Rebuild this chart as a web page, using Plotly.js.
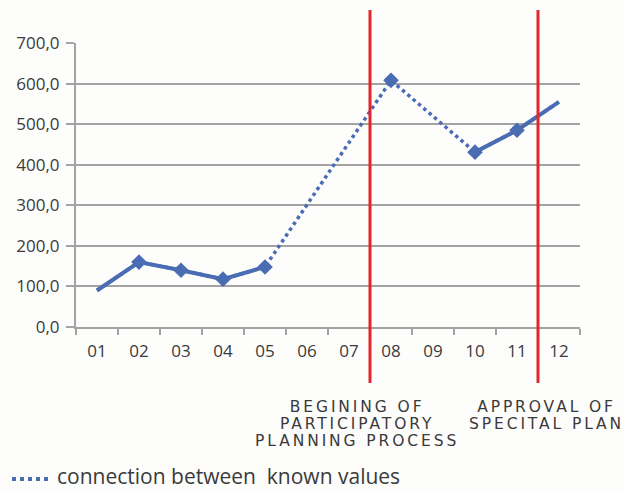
<!DOCTYPE html>
<html>
<head>
<meta charset="utf-8">
<script src="https://cdn.plot.ly/plotly-3.0.1.min.js"></script>
<style>
  html, body { margin: 0; padding: 0; background: #fdfdfb; }
  #chart { width: 624px; height: 491px; }
</style>
</head>
<body>
<div id="chart"></div>
<script>
// Month codes along the x axis
const months = ['01', '02', '03', '04', '05', '06', '07', '08', '09', '10', '11', '12'];
// Known values; null where no value is known
const values = [90, 160, 140, 118, 148, null, null, 608, null, 431, 485, 555];
// Points shown with a diamond marker
const marked = [false, true, true, true, true, false, false, true, false, true, true, false];
// Event markers: position between categories and label lines
const eventPositions = [6.5, 10.5];
const eventLabels = [
  ['BEGINING OF', 'PARTICIPATORY', 'PLANNING PROCESS'],
  ['APPROVAL OF', 'SPECITAL PLAN']
];
const legendLabel = 'connection between  known values';

const blue = '#4a6cb3';
const red = '#e2262b';
const grey = '#a3a3a3';
const textColor = '#3a3a3a';

// Plot area in pixels, used to place paper-referenced items
const plotL = 76, plotR = 580, plotT = 43, plotB = 327;
const px = x => (x - plotL) / (plotR - plotL);
const py = y => (plotB - y) / (plotB - plotT);

// Dotted line bridging the gaps between known values
const bridge = {
  x: months, y: values, type: 'scatter', mode: 'lines',
  connectgaps: true, hoverinfo: 'skip', showlegend: false,
  line: { color: blue, width: 3.5, dash: 'dot' }
};

// Solid line through consecutive known values
const known = {
  x: months, y: values, type: 'scatter', mode: 'lines',
  connectgaps: false, showlegend: false,
  line: { color: blue, width: 4 }
};

// Diamond markers on the measured points
const markerPts = {
  x: months.filter((m, i) => marked[i]),
  y: values.filter((v, i) => marked[i]),
  type: 'scatter', mode: 'markers', showlegend: false,
  marker: { symbol: 'diamond', size: 12, color: blue }
};

const shapes = eventPositions.map(p => ({
  type: 'line', xref: 'x', yref: 'paper',
  x0: p, x1: p, y0: py(383), y1: py(10),
  line: { color: red, width: 3 }
}));
// Legend sample: dotted line
shapes.push({
  type: 'line', xref: 'paper', yref: 'paper',
  x0: px(12), x1: px(50), y0: py(479), y1: py(479),
  line: { color: blue, width: 4, dash: 'dot' }
});

// Event captions: a small base size keeps the line pitch tight,
// while the spans carry the visible letter size and spacing
const eventCenters = [357, 546];
const captionSpan = s => '<span style="font-size:15.5px;letter-spacing:2.9px">' + s + '</span>';
const annotations = eventLabels.map((lines, k) => ({
  xref: 'paper', yref: 'paper', x: px(eventCenters[k]), y: py(397),
  xanchor: 'center', yanchor: 'top', align: 'center', showarrow: false,
  borderpad: 0,
  text: lines.map(captionSpan).join('<br>'),
  font: { family: 'DejaVu Sans', size: 13, color: textColor }
}));
annotations.push({
  xref: 'paper', yref: 'paper', x: px(56), y: py(491),
  xanchor: 'left', yanchor: 'bottom', showarrow: false, borderpad: 0,
  text: legendLabel, font: { family: 'Open Sans', size: 21, color: textColor }
});

const layout = {
  width: 624, height: 491,
  margin: { l: plotL, r: 624 - plotR, t: plotT, b: 491 - plotB },
  paper_bgcolor: '#fdfdfb', plot_bgcolor: '#fdfdfb',
  separators: ', ',
  showlegend: false,
  font: { family: 'Open Sans', color: textColor },
  xaxis: {
    type: 'category', range: [-0.5, 11.5],
    tickson: 'boundaries', ticks: 'outside', ticklen: 6, tickwidth: 2, tickcolor: grey,
    ticklabelstandoff: 8,
    showline: true, linecolor: grey, linewidth: 2,
    showgrid: false, zeroline: false,
    tickfont: { size: 17, color: textColor }
  },
  yaxis: {
    range: [0, 700], dtick: 100, tickformat: '.1f',
    ticks: 'outside', ticklen: 8, tickwidth: 2, tickcolor: grey,
    ticklabelstandoff: 3,
    showline: true, linecolor: grey, linewidth: 2,
    showgrid: true, gridcolor: grey, gridwidth: 2, zeroline: false,
    tickfont: { size: 17, color: textColor }
  },
  shapes: shapes,
  annotations: annotations
};

Plotly.newPlot('chart', [bridge, known, markerPts], layout, { displayModeBar: false, staticPlot: true });
</script>
</body>
</html>
